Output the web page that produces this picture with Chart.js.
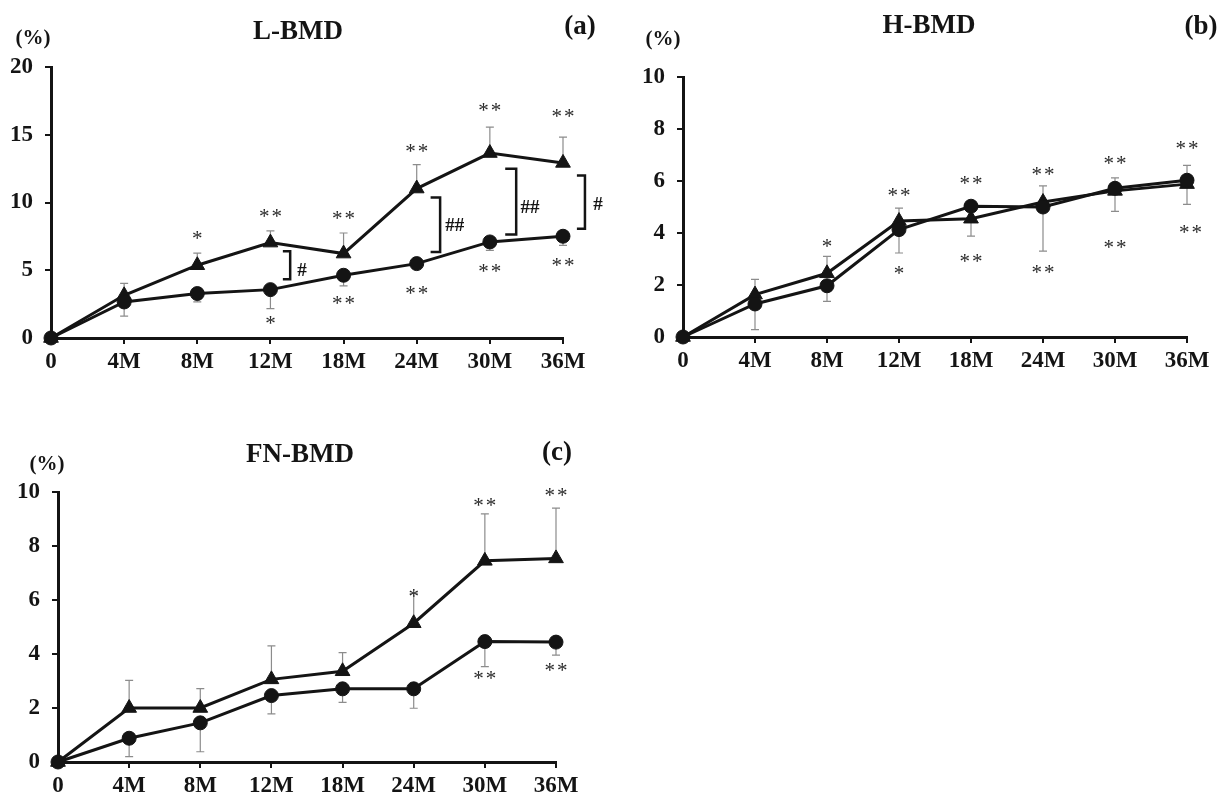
<!DOCTYPE html>
<html>
<head>
<meta charset="utf-8">
<script src="https://cdn.jsdelivr.net/npm/chart.js@4.4.0/dist/chart.umd.min.js"></script>
<style>
  body { margin: 0; background: #fff; }
  #wrap { position: relative; width: 1231px; height: 799px; overflow: hidden; }
  .panel { position: absolute; }
</style>
</head>
<body>
<div id="wrap">
  <div class="panel" style="left:0;top:0;width:620px;height:400px"><canvas id="chartA" width="620" height="400"></canvas></div>
  <div class="panel" style="left:620px;top:0;width:611px;height:400px"><canvas id="chartB" width="611" height="400"></canvas></div>
  <div class="panel" style="left:0;top:420px;width:620px;height:379px"><canvas id="chartC" width="620" height="379"></canvas></div>
</div>
<script>
const months = ['0', '4M', '8M', '12M', '18M', '24M', '30M', '36M'];

// (a) L-BMD
const lCircle = [0, 2.66, 3.28, 3.57, 4.63, 5.49, 7.09, 7.51];
const lTriangle = [0, 3.15, 5.37, 7.04, 6.23, 11.03, 13.65, 12.92];
const lCircleErr = [null, 1.61, 2.66, 2.17, 3.84, null, 6.47, 6.84];
const lTriangleErr = [null, 4.03, 6.27, 7.9, 7.75, 12.8, 15.57, 14.83];
const lStars = [
    [2, 7.58, '*'], [3, 9.2, '**'], [4, 9.05, '**'], [5, 14.05, '**'], [6, 17.05, '**'], [7, 16.6, '**'],
    [3, 1.36, '*'], [4, 2.78, '**'], [5, 3.57, '**'], [6, 5.2, '**'], [7, 5.6, '**']
];
// bracket: tip x, line x, top, bottom, label, label x, label y
const lBrackets = [
    [3.17, 3.27, 6.40, 4.33, '#', 3.43, 5.07],
    [5.19, 5.32, 10.36, 6.35, '##', 5.52, 8.39],
    [6.21, 6.36, 12.5, 7.63, '##', 6.55, 9.72],
    [7.19, 7.30, 12.0, 8.07, '#', 7.48, 9.96]
];

// (b) H-BMD
const hCircle = [0, 1.27, 1.97, 4.13, 5.03, 5.0, 5.72, 6.03];
const hTriangle = [0, 1.63, 2.45, 4.46, 4.55, 5.19, 5.62, 5.88];
const hCircleErr = [null, 0.28, 1.37, 3.23, null, 3.3, 6.12, 6.6];
const hTriangleErr = [null, 2.22, 3.1, 4.96, 3.88, 5.81, 4.83, 5.1];
const hStars = [
    [2, 3.62, '*'], [3, 5.58, '**'], [4, 6.05, '**'], [5, 6.37, '**'], [6, 6.8, '**'], [7, 7.37, '**'],
    [3, 2.57, '*'], [4, 3.05, '**'], [5, 2.63, '**'], [6, 3.57, '**'], [7.05, 4.17, '**']
];

// (c) FN-BMD
const fnCircle = [0, 0.88, 1.45, 2.46, 2.71, 2.71, 4.46, 4.44];
const fnTriangle = [0, 2.0, 2.0, 3.06, 3.36, 5.14, 7.45, 7.54];
const fnCircleErr = [null, 0.2, 0.38, 1.78, 2.21, 1.99, 3.53, 3.96];
const fnTriangleErr = [null, 3.02, 2.72, 4.3, 4.05, 6.25, 9.19, 9.4];
const fnStars = [
    [5, 6.25, '*'], [6, 9.64, '**'], [7, 10.0, '**'],
    [6, 3.22, '**'], [7, 3.51, '**']
];

const SERIF = '"Liberation Serif", "Times New Roman", serif';
const INK = '#141414';

// error bars, significance marks, brackets and panel texts
const annotate = {
    id: 'annotate',
    beforeDatasetsDraw(chart, args, opts) {
        const ctx = chart.ctx;
        const y = chart.scales.y;
        ctx.save();
        ctx.strokeStyle = '#8c8c8c';
        ctx.lineWidth = 1.2;
        opts.errors.forEach((errs, d) => {
            const meta = chart.getDatasetMeta(d);
            errs.forEach((e, i) => {
                if (e === null) return;
                const p = meta.data[i];
                const ye = y.getPixelForValue(e);
                ctx.beginPath();
                ctx.moveTo(p.x, p.y);
                ctx.lineTo(p.x, ye);
                ctx.moveTo(p.x - 4, ye);
                ctx.lineTo(p.x + 4, ye);
                ctx.stroke();
            });
        });
        ctx.restore();
    },
    afterDatasetsDraw(chart, args, opts) {
        const ctx = chart.ctx;
        const x = chart.scales.x;
        const y = chart.scales.y;
        ctx.save();
        ctx.fillStyle = '#2a2a2a';
        ctx.textAlign = 'center';
        ctx.textBaseline = 'alphabetic';
        ctx.font = '21px ' + SERIF;
        ctx.letterSpacing = '2px';
        opts.stars.forEach(s => {
            ctx.fillText(s[2], x.getPixelForValue(s[0]) + 1, y.getPixelForValue(s[1]) + 10);
        });
        ctx.letterSpacing = '0px';
        ctx.fillStyle = INK;
        ctx.font = 'bold 19px ' + SERIF;
        ctx.strokeStyle = INK;
        ctx.lineWidth = 2.5;
        (opts.brackets || []).forEach(b => {
            const xt = x.getPixelForValue(b[0]);
            const xl = x.getPixelForValue(b[1]);
            const yt = y.getPixelForValue(b[2]);
            const yb = y.getPixelForValue(b[3]);
            ctx.beginPath();
            ctx.moveTo(xt, yt);
            ctx.lineTo(xl, yt);
            ctx.lineTo(xl, yb);
            ctx.lineTo(xt, yb);
            ctx.stroke();
            ctx.fillText(b[4], x.getPixelForValue(b[5]), y.getPixelForValue(b[6]) + 7);
        });
        ctx.restore();
    },
    afterDraw(chart, args, opts) {
        const ctx = chart.ctx;
        ctx.save();
        ctx.fillStyle = INK;
        ctx.textAlign = 'center';
        ctx.textBaseline = 'middle';
        ctx.font = 'bold 27px ' + SERIF;
        ctx.fillText(opts.title, opts.titlePos[0], opts.titlePos[1]);
        ctx.fillText(opts.letter, opts.letterPos[0], opts.letterPos[1]);
        ctx.font = 'bold 21px ' + SERIF;
        ctx.fillText('(%)', opts.unitPos[0], opts.unitPos[1]);
        ctx.restore();
    }
};

const makeChart = (id, p) => {
    const ctx = document.getElementById(id);
    return new Chart(ctx, {
        type: 'line',
        data: {
            labels: months,
            datasets: [{
                data: p.circle,
                borderColor: INK,
                backgroundColor: INK,
                borderWidth: 3,
                pointStyle: 'circle',
                pointRadius: 7,
                pointBorderWidth: 1,
                tension: 0,
                clip: false
            }, {
                data: p.triangle,
                borderColor: INK,
                backgroundColor: INK,
                borderWidth: 3,
                pointStyle: 'triangle',
                pointRadius: 8.5,
                pointBorderWidth: 1,
                tension: 0,
                clip: false
            }]
        },
        options: {
            responsive: false,
            animation: false,
            layout: { padding: p.padding },
            plugins: {
                legend: { display: false },
                tooltip: { enabled: false },
                annotate: {
                    errors: [p.circleErr, p.triangleErr],
                    stars: p.stars,
                    brackets: p.brackets,
                    title: p.title,
                    titlePos: p.titlePos,
                    letter: p.letter,
                    letterPos: p.letterPos,
                    unitPos: p.unitPos
                }
            },
            scales: {
                x: {
                    afterFit: s => { s.height = p.xHeight; },
                    border: { color: INK, width: 3 },
                    grid: { drawOnChartArea: false, tickLength: 6, color: INK, lineWidth: 2 },
                    ticks: { color: INK, padding: 4, maxRotation: 0, autoSkip: false,
                        font: { family: SERIF, size: 23, weight: 'bold' } }
                },
                y: {
                    min: 0,
                    max: p.yMax,
                    afterFit: s => { s.width = p.yWidth; },
                    border: { color: INK, width: 3 },
                    grid: { drawOnChartArea: false, tickLength: 6, color: INK, lineWidth: 2 },
                    ticks: { stepSize: p.yStep, color: INK, padding: 12,
                        font: { family: SERIF, size: 23, weight: 'bold' } }
                }
            }
        },
        plugins: [annotate]
    });
};

makeChart('chartA', {
    circle: lCircle, triangle: lTriangle, circleErr: lCircleErr, triangleErr: lTriangleErr,
    stars: lStars, brackets: lBrackets, yMax: 20, yStep: 5, yWidth: 51, xHeight: 50,
    padding: { top: 67, right: 57, bottom: 12, left: 0 },
    title: 'L-BMD', titlePos: [298, 32], letter: '(a)', letterPos: [580, 27], unitPos: [33, 39]
});

makeChart('chartB', {
    circle: hCircle, triangle: hTriangle, circleErr: hCircleErr, triangleErr: hTriangleErr,
    stars: hStars, brackets: [], yMax: 10, yStep: 2, yWidth: 63, xHeight: 50,
    padding: { top: 77, right: 44, bottom: 13, left: 0 },
    title: 'H-BMD', titlePos: [309, 26], letter: '(b)', letterPos: [581, 27], unitPos: [43, 40]
});

makeChart('chartC', {
    circle: fnCircle, triangle: fnTriangle, circleErr: fnCircleErr, triangleErr: fnTriangleErr,
    stars: fnStars, brackets: [], yMax: 10, yStep: 2, yWidth: 58, xHeight: 37,
    padding: { top: 72, right: 64, bottom: 0, left: 0 },
    title: 'FN-BMD', titlePos: [300, 35], letter: '(c)', letterPos: [557, 33], unitPos: [47, 45]
});
</script>
</body>
</html>
